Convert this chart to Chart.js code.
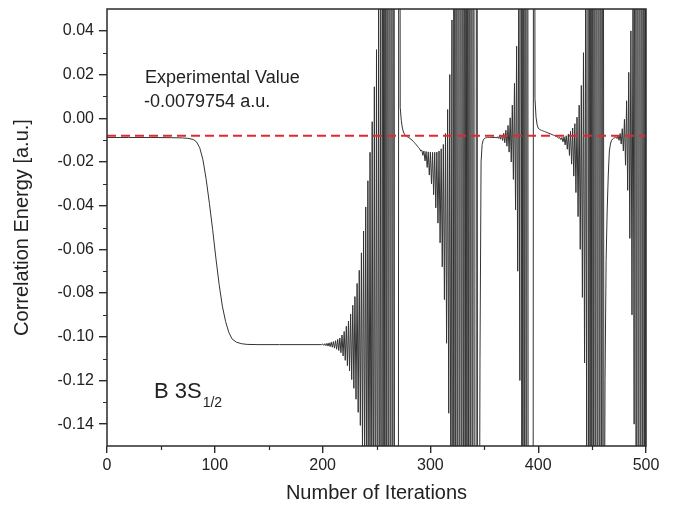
<!DOCTYPE html>
<html>
<head>
<meta charset="utf-8">
<script src="https://cdn.jsdelivr.net/npm/chart.js@4.4.1/dist/chart.umd.min.js"></script>
<style>
  html, body { margin: 0; padding: 0; background: #fff; }
  #wrap { width: 673px; height: 513px; }
</style>
</head>
<body>
<div id="wrap"><canvas id="chart" width="673" height="513"></canvas></div>
<script>
// smooth start: flat, then the drop to the plateau
const smoothIter = [0, 20, 40, 60, 70, 75, 80, 83, 86, 89, 92, 95, 98, 101, 104, 107, 110, 113, 116, 120, 125, 130, 140, 160, 180, 199];
const smoothEnergy = [-0.0088, -0.0088, -0.0088, -0.0089, -0.0090, -0.0092, -0.0097, -0.0108, -0.0135, -0.019, -0.028, -0.039, -0.051,
    -0.064, -0.076, -0.086, -0.093, -0.098, -0.1010, -0.1025, -0.1032, -0.1035, -0.1036, -0.1036, -0.1036, -0.1036];

// one value per iteration from oscStart on (values past +-0.15 run off the plot)
const oscStart = 200;
const oscEnergy = [
    -0.1033, -0.1039, -0.1032, -0.1041, -0.1030, -0.1043, -0.1028, -0.1045, -0.1025, -0.1048, // 200
    -0.1022, -0.1052, -0.1018, -0.1057, -0.1012, -0.1063, -0.1006, -0.1073, -0.0992, -0.1088, // 210
    -0.0976, -0.1108, -0.0952, -0.1132, -0.0928, -0.1156, -0.0896, -0.1196, -0.0856, -0.1236, // 220
    -0.0816, -0.1286, -0.0756, -0.1346, -0.0696, -0.1406, -0.0616, -0.1506, -0.0516, -0.1616, // 230
    -0.0406, -0.1726, -0.0286, -0.1856, -0.0156, -0.1976, -0.0016, -0.2136, 0.0144, -0.2296,  // 240
    0.0314, -0.2496, 0.0534, -0.2716, 0.0764,                                                 // 250
    -0.5, 0.5, -0.5, 0.5, -0.5, 0.5, -0.5, 0.5, -0.5, 0.5, -0.5, 0.5,                         // 255
    -0.5, -0.6, -0.6, -0.5, 0.5, 0.005,                                                       // 267
    -0.001, -0.0045, -0.0063, -0.0073, -0.0079, -0.0083, -0.0086, -0.0089, -0.0092, -0.0096,  // 273
    -0.0100, -0.0105, -0.0110, -0.0116, -0.0122, -0.0128, -0.0134, -0.0140,                   // 283
    -0.0150, -0.0146, -0.0170, -0.0150, -0.0195, -0.0152, -0.0225, -0.0154, -0.0260, -0.0155, // 291
    -0.0300, -0.0156, -0.0350, -0.0156, -0.0410, -0.0155, -0.0480, -0.0150, -0.0570, -0.0140, // 301
    -0.0680, -0.0120, -0.0830, -0.0070, -0.1030, 0.0040, -0.1350, 0.0200, -0.1900, 0.0450,    // 311
    -0.5, 0.5, -0.5, 0.5, -0.5, 0.5, -0.5, 0.5, -0.5, 0.5, -0.5,                              // 321
    0.5, -0.5, 0.5, -0.5, 0.5, -0.5, 0.5, -0.5, 0.5, -0.5,                                    // 332
    -0.6, 0.5, -0.5, -0.3, -0.11, -0.02, -0.012, -0.0100,                                     // 342
    -0.0093, -0.0090, -0.0089, -0.0088, -0.0088, -0.0088, -0.0088, -0.0088, -0.0088, -0.0088, // 350
    -0.0087, -0.0090, -0.0085, -0.0092, -0.0082, -0.0096, -0.0077, -0.0102, -0.0069, -0.0112, // 360
    -0.0055, -0.0128, -0.0033, -0.0155, 0.0002, -0.0200, 0.0060, -0.0280, 0.0160, -0.0420,    // 370
    0.0330, -0.0700, 0.0600, -0.1200,                                                         // 380
    0.5, -0.5, 0.5, -0.5, 0.5, -0.5, 0.5, -0.5,                                               // 384
    -0.6, -0.6, -0.6, -0.5, 0.5, 0.009,                                                       // 392
    0.0005, -0.003, -0.0045, -0.005,                                                          // 398
    -0.0053, -0.0055, -0.0057, -0.0059, -0.0061, -0.0063, -0.0065, -0.0067,                   // 402
    -0.0069, -0.0071, -0.0073, -0.0075, -0.0077, -0.0079, -0.0081, -0.0083,                   // 410
    -0.0086, -0.0092, -0.0088, -0.0098, -0.0088, -0.0108, -0.0085, -0.0122, -0.0080, -0.0142, // 418
    -0.0072, -0.0170, -0.0060, -0.0210, -0.0045, -0.0265, -0.0025, -0.0340, 0.0005, -0.0450,  // 428
    0.0060, -0.0600, 0.0150, -0.0820, 0.0300, -0.1120, 0.0550, -0.1600,                       // 438
    0.5, -0.5, 0.5, -0.5, 0.5, -0.5, 0.5, -0.5, 0.5, -0.5, 0.5, -0.5, 0.5, -0.5, 0.5,        // 446
    -0.25, -0.12, -0.065, -0.042, -0.026, -0.015, -0.0118, -0.0102, -0.0095, -0.0091, -0.0089, // 461
    -0.0086, -0.0093, -0.0081, -0.0101, -0.0070, -0.0118, -0.0048, -0.0150, -0.0005, -0.0215, // 472
    0.0080, -0.0330, 0.0210, -0.0550, 0.0400, -0.0900, 0.0700, -0.1400,                       // 482
    0.5, -0.5, 0.5, -0.5, 0.5, -0.5, 0.5, -0.5, 0.5, -0.5, 0.5                                // 490
];

const expValue = -0.0079754;
const xTicks = [0, 100, 200, 300, 400, 500];
const xMinor = [50, 150, 250, 350, 450];
const yTicks = [-0.14, -0.12, -0.10, -0.08, -0.06, -0.04, -0.02, 0.00, 0.02, 0.04];
const yMinor = [-0.13, -0.11, -0.09, -0.07, -0.05, -0.03, -0.01, 0.01, 0.03];

const fontFamily = '"Liberation Sans", Arial, Helvetica, sans-serif';
const axisColor = '#2b2b2b';

const energyPoints = [];
smoothIter.forEach((it, i) => energyPoints.push({ x: it, y: smoothEnergy[i] }));
oscEnergy.forEach((e, i) => energyPoints.push({ x: oscStart + i, y: e }));

// frame, minor ticks and the text labels inside the plot
const extras = {
    id: 'extras',
    afterDatasetsDraw(chart) {
        const { ctx, chartArea: a, scales } = chart;
        ctx.save();
        ctx.strokeStyle = axisColor;
        ctx.lineWidth = 1.5;
        ctx.strokeRect(a.left, a.top, a.right - a.left, a.bottom - a.top);
        ctx.lineWidth = 1.2;
        ctx.beginPath();
        yMinor.forEach(v => {
            const y = Math.round(scales.y.getPixelForValue(v)) + 0.5;
            ctx.moveTo(a.left - 4, y);
            ctx.lineTo(a.left, y);
        });
        xMinor.forEach(v => {
            const x = Math.round(scales.x.getPixelForValue(v)) + 0.5;
            ctx.moveTo(x, a.bottom);
            ctx.lineTo(x, a.bottom + 4);
        });
        ctx.stroke();

        ctx.fillStyle = '#222';
        ctx.textBaseline = 'alphabetic';
        ctx.font = '18px ' + fontFamily;
        const tx = scales.x.getPixelForValue(35.3);
        ctx.fillText('Experimental Value', tx, scales.y.getPixelForValue(0.0161));
        ctx.fillText('-0.0079754 a.u.', tx - 1, scales.y.getPixelForValue(0.00515));

        ctx.font = '22px ' + fontFamily;
        const bx = scales.x.getPixelForValue(43.6);
        const by = scales.y.getPixelForValue(-0.128);
        ctx.fillText('B 3S', bx, by);
        const w = ctx.measureText('B 3S').width;
        ctx.font = '14px ' + fontFamily;
        ctx.fillText('1/2', bx + w + 1, by + 9);
        ctx.restore();
    }
};

const ctx = document.getElementById('chart').getContext('2d');
const chart = new Chart(ctx, {
    type: 'line',
    data: {
        datasets: [
            {
                label: 'Experimental',
                data: [{ x: 0, y: expValue }, { x: 500, y: expValue }],
                borderColor: '#e3282c',
                borderWidth: 2,
                borderDash: [9, 5],
                pointRadius: 0,
                order: 0,
            },
            {
                label: 'B 3S1/2',
                data: energyPoints,
                borderColor: '#333333',
                borderWidth: 1,
                pointRadius: 0,
                tension: 0,
                order: 1,
            },
        ],
    },
    options: {
        responsive: false,
        animation: false,
        events: [],
        layout: { padding: { top: 9, right: 27, left: 0, bottom: 0 } },
        plugins: {
            legend: { display: false },
            tooltip: { enabled: false },
        },
        scales: {
            x: {
                type: 'linear',
                min: 0,
                max: 500,
                afterBuildTicks: (scale) => { scale.ticks = xTicks.map(v => ({ value: v })); },
                afterFit: (scale) => {
                    scale.height = 67;
                    scale.paddingLeft = 0;
                    scale.paddingRight = 0;
                },
                grid: { drawOnChartArea: false, tickLength: 7, color: axisColor, lineWidth: 1.4 },
                border: { display: false },
                ticks: {
                    padding: 3,
                    color: '#222',
                    font: { family: fontFamily, size: 16 },
                    maxRotation: 0,
                    callback: (v) => String(v),
                },
                title: {
                    display: true,
                    text: 'Number of Iterations',
                    color: '#222',
                    font: { family: fontFamily, size: 20 },
                    padding: { top: 0, bottom: 8 },
                },
            },
            y: {
                type: 'linear',
                min: -0.15,
                max: 0.05,
                afterBuildTicks: (scale) => { scale.ticks = yTicks.map(v => ({ value: v })); },
                afterFit: (scale) => {
                    scale.width = 107;
                    scale.paddingTop = 0;
                    scale.paddingBottom = 0;
                },
                grid: { drawOnChartArea: false, tickLength: 8, color: axisColor, lineWidth: 1.4 },
                border: { display: false },
                ticks: {
                    padding: 5,
                    color: '#222',
                    font: { family: fontFamily, size: 16 },
                    callback: (v) => Number(v).toFixed(2),
                },
                title: {
                    display: true,
                    text: 'Correlation Energy [a.u.]',
                    color: '#222',
                    font: { family: fontFamily, size: 20 },
                    padding: { top: 10, bottom: 0 },
                },
            },
        },
    },
    plugins: [extras],
});
</script>
</body>
</html>
